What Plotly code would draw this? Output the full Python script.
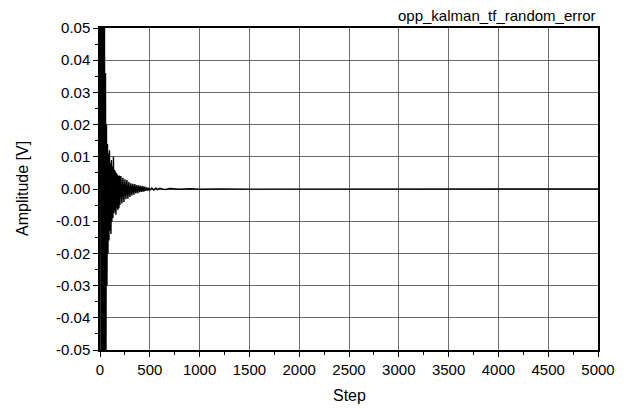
import plotly.graph_objects as go

# Step positions (samples) and amplitude values [V]
steps = [0, 5, 10, 15, 20, 25, 30, 35, 40, 45,
         50, 55, 60, 65, 70, 75, 80, 85, 90, 95,
         100, 105, 110, 115, 120, 125, 130, 135, 140, 145,
         150, 155, 160, 165, 170, 175, 180, 185, 190, 195,
         200, 210, 220, 230, 240, 250, 260, 270, 280, 290,
         300, 310, 320, 330, 340, 350, 360, 370, 380, 390,
         400, 410, 420, 430, 440, 450, 460, 470, 480, 490,
         500, 520, 540, 560, 580, 600, 650, 700, 800, 900,
         1000, 1200, 1500, 2000, 5000]
amplitude = [0.0, 0.070, -0.070, 0.070, -0.070, 0.068, -0.070, 0.065, -0.068, 0.050,
             -0.060, 0.036, -0.050, 0.020, -0.030, 0.014, -0.020, 0.011, -0.016, 0.012,
             -0.013, 0.008, -0.014, 0.009, -0.010, 0.007, -0.009, 0.010, -0.0075, 0.006,
             -0.0070, 0.0055, -0.0080, 0.0050, -0.0060, 0.0045, -0.0065, 0.0040, -0.0060, 0.0042,
             -0.0050, 0.0040, -0.0045, 0.0035, -0.0040, 0.0030, -0.0032, 0.0028, -0.0030, 0.0022,
             -0.0025, 0.0018, -0.0020, 0.0016, -0.0018, 0.0015, -0.0014, 0.0012, -0.0013, 0.0011,
             -0.0010, 0.0010, -0.0009, 0.0009, -0.0008, 0.0007, -0.0006, 0.0005, -0.0005, 0.0004,
             -0.0004, 0.0003, -0.0003, 0.0003, -0.0002, 0.0002, -0.0002, 0.00015, -0.0001, 0.0001,
             -0.00008, 0.00005, -0.00003, 0.0, 0.0]

x_ticks = [0, 500, 1000, 1500, 2000, 2500, 3000, 3500, 4000, 4500, 5000]
y_ticks = [0.05, 0.04, 0.03, 0.02, 0.01, 0.00, -0.01, -0.02, -0.03, -0.04, -0.05]

title_text = "opp_kalman_tf_random_error"
x_title = "Step"
y_title = "Amplitude [V]"

FONT = "Liberation Sans, Arial, Helvetica, sans-serif"

fig = go.Figure()
fig.add_trace(go.Scatter(x=steps, y=amplitude, mode="lines",
                         line=dict(color="black", width=1.4), showlegend=False,
                         cliponaxis=True))

axis_common = dict(
    showline=True, linecolor="black", linewidth=1.5, mirror=True,
    showgrid=True, gridcolor="rgba(70,70,70,0.8)", gridwidth=1,
    zeroline=False,
    ticks="outside", ticklen=5, tickwidth=1, tickcolor="black",
    tickfont=dict(family=FONT, size=15, color="black"),
)

fig.update_xaxes(range=[0, 5000], tickvals=x_ticks, ticktext=[str(v) for v in x_ticks],
                 minor=dict(dtick=250, ticks="outside", ticklen=3, tickcolor="black", showgrid=False),
                 **axis_common)
fig.update_yaxes(range=[-0.05, 0.05], tickvals=y_ticks, ticktext=[f"{v:.2f}" for v in y_ticks],
                 minor=dict(dtick=0.005, ticks="outside", ticklen=3, tickcolor="black", showgrid=False),
                 **axis_common)

fig.update_layout(
    width=634, height=409,
    margin=dict(l=100, r=36, t=28, b=59),
    paper_bgcolor="white", plot_bgcolor="white",
    font=dict(family=FONT, color="black"),
    annotations=[
        dict(text=title_text, xref="paper", yref="paper", x=1.0, y=1.0,
             xanchor="right", yanchor="bottom", yshift=2, showarrow=False,
             font=dict(family=FONT, size=15, color="black")),
        dict(text=x_title, xref="paper", yref="paper", x=0.5, y=0,
             xanchor="center", yanchor="middle", yshift=-45, showarrow=False,
             font=dict(family=FONT, size=16, color="black")),
        dict(text=y_title, xref="paper", yref="paper", x=0, y=0.5,
             xanchor="center", yanchor="middle", xshift=-78, textangle=-90, showarrow=False,
             font=dict(family=FONT, size=16, color="black")),
    ],
)

fig.write_html("out.html")
